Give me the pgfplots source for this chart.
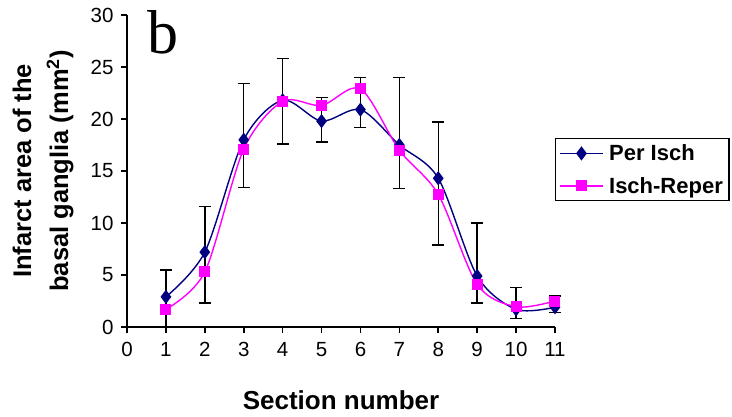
\documentclass[border=0pt]{standalone}
\usepackage{fontspec}
\setmainfont{Liberation Sans}
\newfontfamily\serifb{Liberation Serif}
\usepackage{pgfplots}
\usepackage{pgfplotstable}
\pgfplotsset{compat=1.18}
\definecolor{navy}{HTML}{000080}
\definecolor{mag}{HTML}{FF00FF}

\pgfplotstableread{
x y ep em
1 2.9 2.6 2.9
2 7.2 4.4 4.9
3 18.0 5.4 4.6
4 21.8 4.0 4.2
5 19.8 2.25 2.0
6 20.9 3.1 1.7
7 17.5 6.5 4.2
8 14.3 5.4 6.4
9 4.9 5.1 2.6
10 1.7 2.1 0.9
11 1.9 1.1 0.5
}\perisch

\pgfplotstableread{
x y
1 1.7
2 5.3
3 17.1
4 21.7
5 21.3
6 22.9
7 17.0
8 12.75
9 4.1
10 1.95
11 2.5
}\ischreper

\begin{document}
\begin{tikzpicture}
\path[use as bounding box] (-127pt,-89pt) rectangle (605pt,327pt);
\begin{axis}[
  at={(0,0)}, anchor=south west,
  scale only axis, width=428pt, height=312pt,
  xmin=0, xmax=11, ymin=0, ymax=30,
  axis lines*=left,
  axis line style={-, line width=1.6pt, black},
  xtick={0,...,11}, ytick={0,5,...,30},
  tick align=outside, major tick length=6pt,
  tick style={line width=1.6pt, black},
  /pgf/number format/assume math mode=true,
  tick label style={font=\fontsize{20.5}{24}\selectfont},
  xticklabel style={yshift=-6pt},
  yticklabel style={xshift=-4pt},
  clip=false,
  xlabel={Section number},
  ylabel={Infarct area of the\\basal ganglia (mm\textsuperscript{2})},
  every axis x label/.style={at={(axis description cs:0.5,-0.266)}, anchor=base, font=\bfseries\fontsize{26}{30}\selectfont},
  every axis y label/.style={at={(axis description cs:-0.196,0.5)}, rotate=90, anchor=center, align=center, font=\bfseries\fontsize{25.5}{37}\selectfont},
  legend style={at={(rel axis cs:1,0.606)}, anchor=north west, draw=black, line width=1.5pt,
    inner xsep=4pt, inner ysep=4pt, row sep=11pt,
    font=\bfseries\fontsize{22}{26}\selectfont, nodes={inner sep=2pt},
    /tikz/every odd column/.append style={column sep=4pt}},
  legend cell align=left,
  legend image code/.code={\draw[mark repeat=2, mark phase=2, #1] plot coordinates {(0pt,0pt) (21pt,0pt) (42pt,0pt)};},
]
\addplot[navy, line width=1.4pt, mark=diamond*, mark size=6pt, mark options={solid, fill=navy},
  smooth, tension=0.5,
  error bars/.cd, y dir=both, y explicit,
  error bar style={black, line width=1.4pt},
  error mark options={rotate=90, mark size=6pt, black, line width=1.4pt}]
  table[x=x, y=y, y error plus=ep, y error minus=em] {\perisch};
\addlegendentry{Per Isch}
\addplot[mag, line width=1.4pt, mark=square*, mark size=4.8pt, mark options={solid, fill=mag},
  smooth, tension=0.5]
  table[x=x, y=y] {\ischreper};
\addlegendentry{Isch-Reper}
\node[anchor=base west, font=\serifb\fontsize{62}{62}\selectfont, inner sep=0pt] at (rel axis cs:0.047,0.878) {b};
\end{axis}
\end{tikzpicture}
\end{document}
